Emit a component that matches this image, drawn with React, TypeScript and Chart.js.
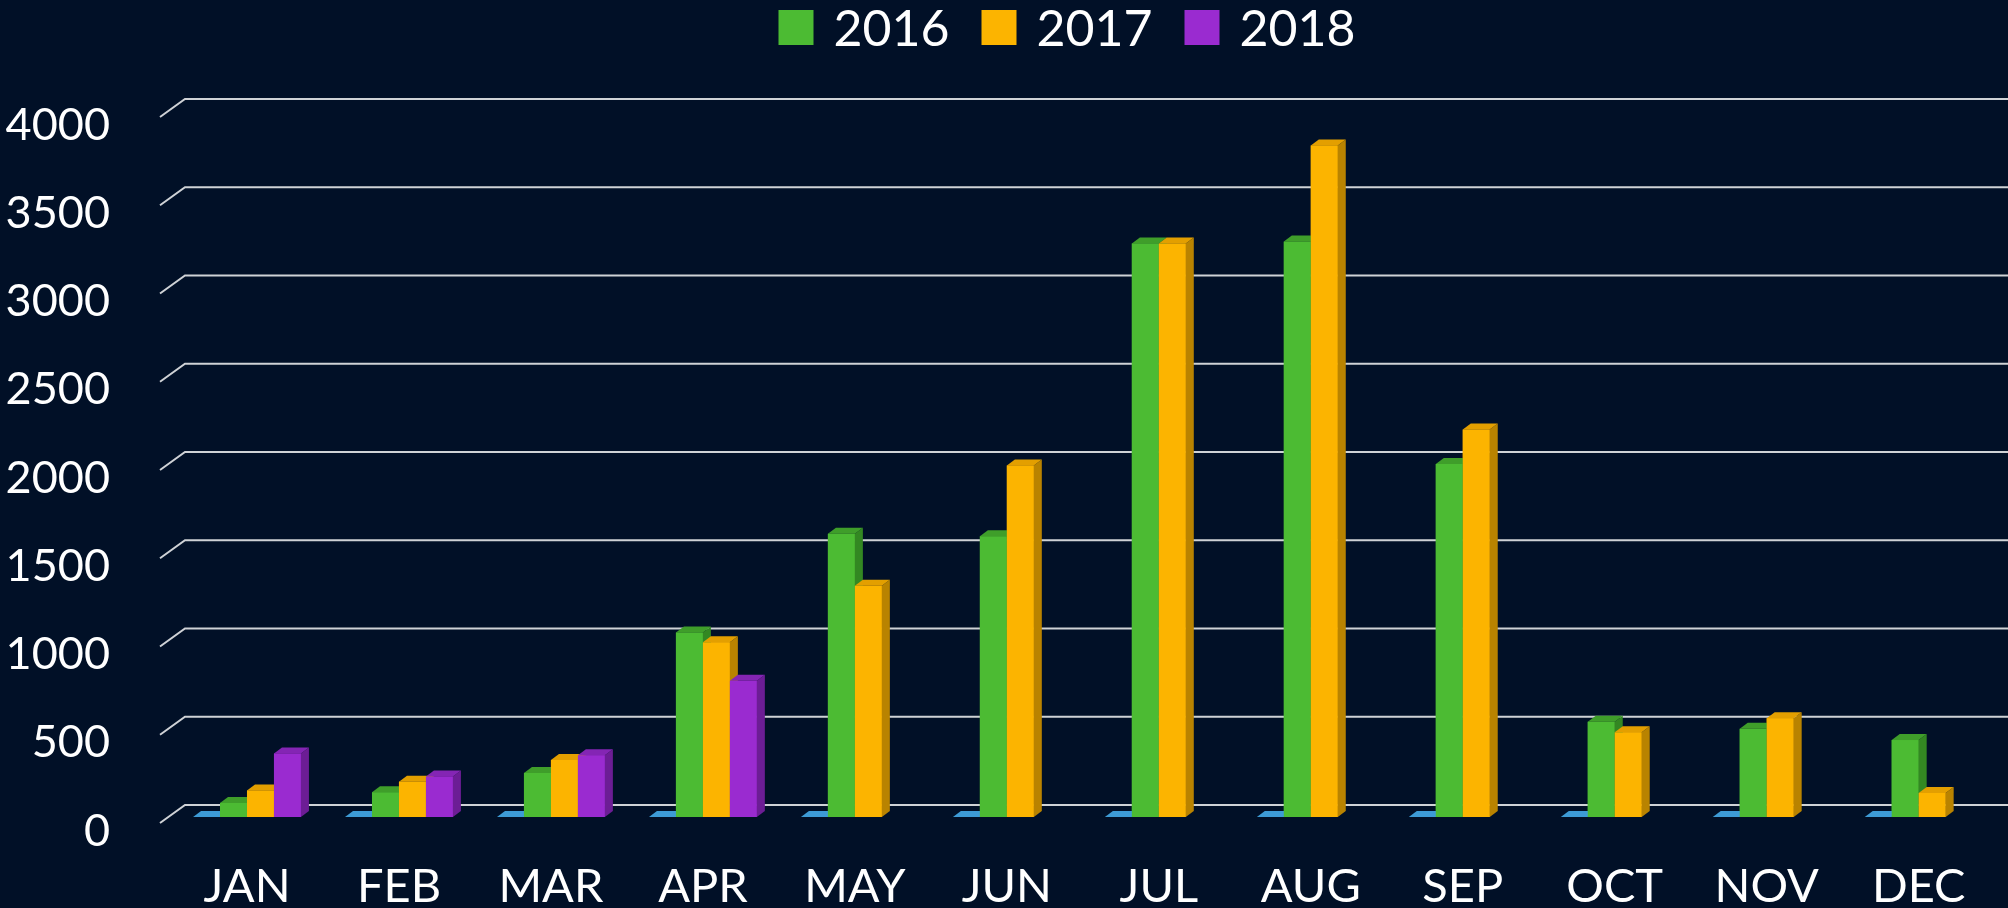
import React, { useEffect, useRef } from "react";
import { Chart, registerables } from "chart.js";

Chart.register(...registerables);

const months = ["JAN", "FEB", "MAR", "APR", "MAY", "JUN", "JUL", "AUG", "SEP", "OCT", "NOV", "DEC"];
const seriesBlue = [0, 0, 0, 0, 0, 0, 0, 0, 0, 0, 0, 0];
const series2016 = [80, 140, 250, 1045, 1605, 1590, 3250, 3260, 2000, 540, 500, 436];
const series2017 = [150, 200, 323, 990, 1310, 1992, 3249, 3805, 2195, 480, 560, 136];
const series2018 = [360, 230, 350, 772, null, null, null, null, null, null, null, null];
const yMin = 0;
const yMax = 4000;
const yStep = 500;

const BG = "#011027";
const FONT = "Lato, 'Open Sans', sans-serif";
const DX = 8;
const DY = 6;

const faces = [
  { front: "#3d9bd6", top: "#3d9bd6", side: "#2b7bb0" },
  { front: "#4cbb33", top: "#3f9e2a", side: "#338822" },
  { front: "#fcb400", top: "#e39f00", side: "#b98300" },
  { front: "#9a2bd0", top: "#8425b4", side: "#6c1d95" },
];

const bar3d = {
  id: "bar3d",
  beforeDatasetsDraw(chart: any) {
    const ctx = chart.ctx;
    const ys = chart.scales.y;
    ctx.save();
    ctx.strokeStyle = "#cfd2d6";
    ctx.lineWidth = 2;
    ys.ticks.forEach((t: any) => {
      const py = ys.getPixelForValue(t.value) - 12;
      ctx.beginPath();
      ctx.moveTo(160, py + 18);
      ctx.lineTo(185, py);
      ctx.lineTo(chart.width, py);
      ctx.stroke();
    });
    ctx.restore();
  },
  afterDatasetsDraw(chart: any) {
    const ctx = chart.ctx;
    ctx.save();
    chart.data.datasets.forEach((ds: any, di: number) => {
      const meta = chart.getDatasetMeta(di);
      const f = faces[di];
      meta.data.forEach((el: any, i: number) => {
        const v = ds.data[i];
        if (v === null || v === undefined) return;
        const p = el.getProps(["x", "y", "base", "width"], true);
        const l = p.x - p.width / 2;
        const r = p.x + p.width / 2;
        const t = Math.min(p.y, p.base);
        const b = Math.max(p.y, p.base);
        if (b - t > 0) {
          ctx.fillStyle = f.front;
          ctx.fillRect(l, t, r - l, b - t);
          ctx.fillStyle = f.side;
          ctx.beginPath();
          ctx.moveTo(r, t);
          ctx.lineTo(r + DX, t - DY);
          ctx.lineTo(r + DX, b - DY);
          ctx.lineTo(r, b);
          ctx.closePath();
          ctx.fill();
        }
        ctx.fillStyle = f.top;
        ctx.beginPath();
        ctx.moveTo(l, t);
        ctx.lineTo(l + DX, t - DY);
        ctx.lineTo(r + DX, t - DY);
        ctx.lineTo(r, t);
        ctx.closePath();
        ctx.fill();
      });
    });
    ctx.restore();
  },
  afterDraw(chart: any) {
    const ctx = chart.ctx;
    ctx.save();
    ctx.font = `50px ${FONT}`;
    ctx.textBaseline = "alphabetic";
    ctx.textAlign = "left";
    const items = chart.data.datasets
      .map((ds: any, di: number) => ({ ds, di }))
      .filter((o: any) => o.ds.label !== "");
    const box = 35;
    const gapText = 20;
    const gapItem = 32;
    const widths = items.map((o: any) => box + gapText + ctx.measureText(o.ds.label).width);
    const total = widths.reduce((a: number, b: number) => a + b, 0) + gapItem * (items.length - 1);
    let x = 1067 - total / 2;
    items.forEach((o: any, k: number) => {
      ctx.fillStyle = faces[o.di].front;
      ctx.fillRect(x, 10, box, box);
      ctx.fillStyle = "#ffffff";
      ctx.fillText(o.ds.label, x + box + gapText, 46);
      x += widths[k] + gapItem;
    });
    ctx.restore();
  },
};

export default function App() {
  const ref = useRef<HTMLCanvasElement | null>(null);
  useEffect(() => {
    if (!ref.current) return;
    const chart = new Chart(ref.current, {
      type: "bar",
      data: {
        labels: months,
        datasets: [
          { label: "", data: seriesBlue, backgroundColor: faces[0].front },
          { label: "2016", data: series2016, backgroundColor: faces[1].front },
          { label: "2017", data: series2017, backgroundColor: faces[2].front },
          { label: "2018", data: series2018 as any, backgroundColor: faces[3].front },
        ],
      },
      options: {
        animation: false,
        responsive: true,
        maintainAspectRatio: false,
        layout: { padding: { left: 0, right: 13, top: 111, bottom: 0 } },
        datasets: { bar: { categoryPercentage: 0.71, barPercentage: 1.0 } },
        plugins: { legend: { display: false }, tooltip: { enabled: false } },
        scales: {
          x: {
            grid: { display: false, drawTicks: false },
            border: { display: false },
            ticks: {
              color: "#ffffff",
              font: { family: FONT, size: 47 },
              padding: 42,
              maxRotation: 0,
              autoSkip: false,
            },
            afterFit: (s: any) => {
              s.height = 91;
            },
          },
          y: {
            min: yMin,
            max: yMax,
            grid: { display: false, drawTicks: false },
            border: { display: false },
            ticks: {
              stepSize: yStep,
              color: "#ffffff",
              font: { family: FONT, size: 45 },
              padding: 61,
              labelOffset: 14,
              callback: (v: any) => String(v),
            },
            afterFit: (s: any) => {
              s.width = 171;
            },
          },
        },
      },
      plugins: [bar3d],
    });
    const fonts: any = (document as any).fonts;
    if (fonts && fonts.load) {
      Promise.all([fonts.load(`50px Lato`), fonts.load(`46px Lato`)]).then(() => chart.update()).catch(() => {});
    }
    return () => chart.destroy();
  }, []);
  return (
    <div style={{ position: "absolute", left: 0, top: 0, width: 2008, height: 908, background: BG }}>
      <canvas ref={ref} />
    </div>
  );
}
